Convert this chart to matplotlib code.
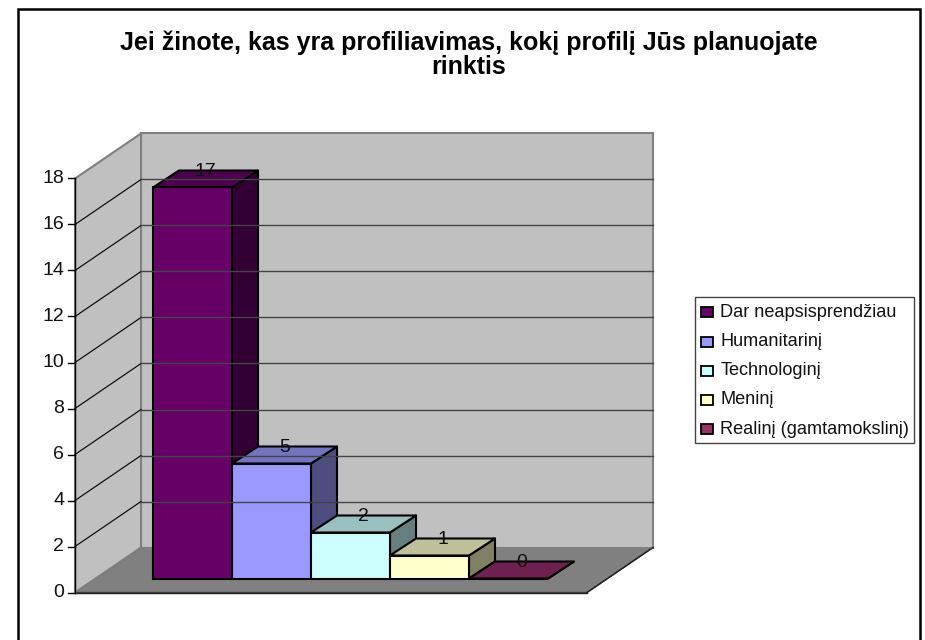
import matplotlib
matplotlib.use("Agg")
import matplotlib.pyplot as plt
from matplotlib.patches import Polygon, Rectangle

categories = ["Dar neapsisprendžiau", "Humanitarinį", "Technologinį", "Meninį", "Realinį (gamtamokslinį)"]
values = [17, 5, 2, 1, 0]
front_colors = ["#660066", "#9999FF", "#CCFFFF", "#FFFFCC", "#6E2050"]
top_colors = ["#4D004D", "#7373BF", "#99BFBF", "#BFBF99", "#6E2050"]
side_colors = ["#330033", "#4D4D80", "#668080", "#808066", "#6E2050"]
legend_colors = ["#660066", "#9999FF", "#CCFFFF", "#FFFFCC", "#993366"]
y_ticks = [0, 2, 4, 6, 8, 10, 12, 14, 16, 18]
title = "Jei žinote, kas yra profiliavimas, kokį profilį Jūs planuojate\nrinktis"

W, H = 925, 640
plt.rcParams["font.family"] = ["Liberation Sans", "DejaVu Sans"]

fig = plt.figure(figsize=(W / 100, H / 100), dpi=100)
ax = fig.add_axes([0, 0, 1, 1])

# one bar = 1 x unit (79 px), one value = 1 y unit (23 px)
XU, YU = 79.0, 23.0
X0, Y0 = 153, 592.5
ax.set_xlim(-X0 / XU, (W - X0) / XU)
ax.set_ylim((Y0 - H) / YU, Y0 / YU)
ax.axis("off")


def px(x):
    return (x - X0) / XU


def py(y):
    return (Y0 - y) / YU


# cube depth and wall depth in data units
bar_dx, bar_dy = 26 / XU, 17 / YU
wall_dx, wall_dy = 66 / XU, 45 / YU
left, right = px(75), px(587)
base = 14 / YU

# frame runs off the bottom of the picture
ax.add_patch(Rectangle((px(18), py(650)), 902 / XU, 641 / YU, fc="white", ec="black", lw=1.8))

# floor and walls
ax.add_patch(Polygon([(left, 0), (right, 0), (right + wall_dx, wall_dy), (left + wall_dx, wall_dy)],
                     fc="#808080", ec="#404040", lw=1))
ax.add_patch(Polygon([(left + wall_dx, wall_dy), (right + wall_dx, wall_dy), (right + wall_dx, 18 + wall_dy),
                      (left + wall_dx, 18 + wall_dy)], fc="#C0C0C0", ec="#808080", lw=1.5))
ax.add_patch(Polygon([(left, 0), (left + wall_dx, wall_dy), (left + wall_dx, 18 + wall_dy), (left, 18)],
                     fc="#C0C0C0", ec="#808080", lw=1.5))

for t in y_ticks[1:-1]:
    ax.plot([left, left + wall_dx], [t, t + wall_dy], color="#111111", lw=0.9)
    ax.plot([left + wall_dx, right + wall_dx], [t + wall_dy, t + wall_dy], color="#444444", lw=1)
ax.plot([left, right], [0, 0], color="#222222", lw=1)
ax.plot([right, right + wall_dx], [0, wall_dy], color="#222222", lw=1)

# value axis
ax.plot([left, left], [0, 18], color="black", lw=1)
for t in y_ticks:
    ax.plot([left - 7 / XU, left], [t, t], color="black", lw=1)
    ax.text(left - 11 / XU, t, str(t), ha="right", va="center", fontsize=14, color="#111111")

# bars
for i, v in enumerate(values):
    x0, x1 = i, i + 1
    y0, y1 = base, base + v
    ax.add_patch(Polygon([(x1, y0), (x1 + bar_dx, y0 + bar_dy), (x1 + bar_dx, y1 + bar_dy), (x1, y1)],
                         fc=side_colors[i], ec="black", lw=1.5, joinstyle="round"))
    ax.add_patch(Polygon([(x0, y1), (x1, y1), (x1 + bar_dx, y1 + bar_dy), (x0 + bar_dx, y1 + bar_dy)],
                         fc=top_colors[i], ec="black", lw=1.5, joinstyle="round"))
    ax.add_patch(Rectangle((x0, y0), 1, v, fc=front_colors[i], ec="black", lw=1.5))
    ax.text(x0 + 0.5 + bar_dx / 2, y1 + bar_dy - 0.04, str(v), ha="center", va="center", fontsize=14,
            color="#111111")

ax.text(px(469), py(55), title, ha="center", va="center", fontsize=18, fontweight="bold",
        linespacing=1.0, color="black")

# legend box
ax.add_patch(Rectangle((px(694.5), py(442.5)), 219.5 / XU, 146 / YU, fc="white", ec="#444444", lw=1))
for i, name in enumerate(categories):
    row = 312.3 + 29.2 * i
    ax.add_patch(Rectangle((px(701), py(row + 5)), 11.5 / XU, 10 / YU, fc=legend_colors[i], ec="black", lw=1.3))
    ax.text(px(720.5), py(row), name, ha="left", va="center", fontsize=13.1, color="#111111")

fig.savefig("out.png", dpi=100)
